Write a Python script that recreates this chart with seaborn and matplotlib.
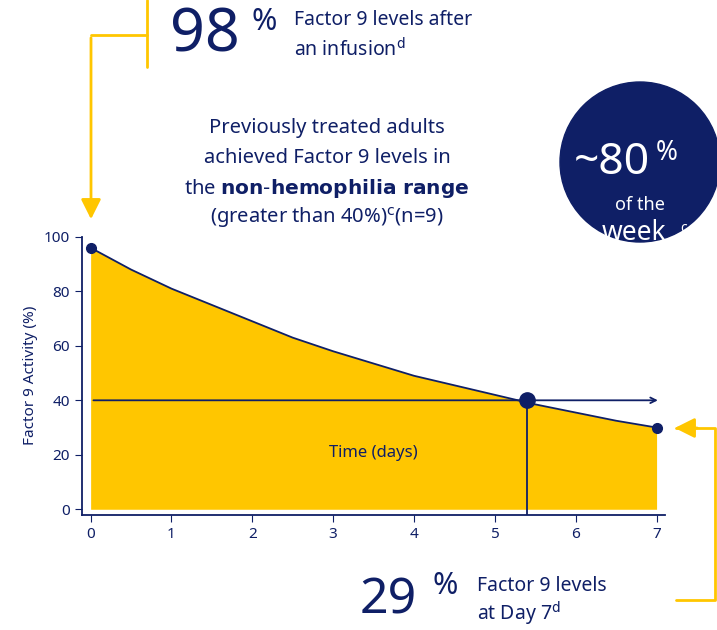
import matplotlib
matplotlib.use("Agg")
import matplotlib.pyplot as plt
import seaborn as sns
from matplotlib.patches import Ellipse, FancyArrowPatch
from matplotlib.lines import Line2D

days = [0, 0.5, 1, 1.5, 2, 2.5, 3, 3.5, 4, 4.5, 5, 5.5, 6, 6.5, 7]
activity = [96, 88, 81, 75, 69, 63, 58, 53.5, 49, 45.5, 42, 38.5, 35.5, 32.5, 30]
threshold = 40
cross_day = 5.4
xticks = [0, 1, 2, 3, 4, 5, 6, 7]
yticks = [0, 20, 40, 60, 80, 100]

NAVY = "#0f1f66"
GOLD = "#FFC600"

sns.set_style("white")
plt.rcParams['font.family'] = ['Noto Sans', 'DejaVu Sans']
fig = plt.figure(figsize=(7.17, 6.30), dpi=100)
ax = fig.add_axes([0.114, 0.183, 0.813, 0.441])
ax.fill_between(days, activity, 0, color=GOLD, lw=0)
sns.lineplot(x=days, y=activity, ax=ax, color=NAVY, lw=1.3)
ax.plot([days[0], days[-1]], [activity[0], activity[-1]], 'o', color=NAVY, ms=7)
ax.annotate("", xy=(7.05, threshold), xytext=(0, threshold),
            arrowprops=dict(arrowstyle="->", color=NAVY, lw=1.3))
ax.plot([cross_day, cross_day], [threshold, -2], color=NAVY, lw=1.3)
ax.plot([cross_day], [threshold], 'o', color=NAVY, ms=11)
ax.text(3.5, 20.5, "Time (days)", ha="center", va="center", color=NAVY, fontsize=12)
ax.set_xlim(-0.11, 7.1)
ax.set_ylim(-2, 100)
ax.set_xticks(xticks); ax.set_yticks(yticks)
ax.tick_params(colors=NAVY, labelsize=11, length=5, direction="out", left=True, bottom=True)
for s in ["top", "right"]:
    ax.spines[s].set_visible(False)
for s in ["left", "bottom"]:
    ax.spines[s].set_color(NAVY); ax.spines[s].set_linewidth(1.3)
ax.set_ylabel("Factor 9 Activity (%)", color=NAVY, fontsize=11)

W, H = 717, 630
def fx(x): return x / W
def fy(y): return 1 - y / H

for (xs, ys) in [([147, 147], [0, 67]), ([147, 91], [35, 35]),
                 ([676, 715, 715, 676], [428, 428, 600, 600])]:
    fig.add_artist(Line2D([fx(v) for v in xs], [fy(v) for v in ys], color=GOLD, lw=2))
fig.add_artist(FancyArrowPatch((fx(91), fy(35)), (fx(91), fy(222)), transform=fig.transFigure,
               arrowstyle="-|>,head_width=6,head_length=12", color=GOLD, lw=2, mutation_scale=1))
fig.add_artist(FancyArrowPatch((fx(700), fy(428)), (fx(672), fy(428)), transform=fig.transFigure,
               arrowstyle="-|>,head_width=6,head_length=12", color=GOLD, lw=2, mutation_scale=1))

fig.text(fx(170), fy(36), "98", fontsize=44, fontweight="bold", color=NAVY, va="center")
fig.text(fx(252), fy(22), "%", fontsize=22, color=NAVY, va="center")
fig.text(fx(294), fy(20), "Factor 9 levels after", fontsize=14, color=NAVY, va="center")
fig.text(fx(294), fy(50), "an infusion$^{\\rm d}$", fontsize=14, color=NAVY, va="center")

cx = fx(327)
fig.text(cx, fy(128), "Previously treated adults", fontsize=14.5, color=NAVY, ha="center", va="center")
fig.text(cx, fy(158), "achieved Factor 9 levels in", fontsize=14.5, color=NAVY, ha="center", va="center")
fig.text(cx, fy(188), "the $\\bf{non\\text{-}hemophilia\\ range}$", fontsize=14.5, color=NAVY, ha="center", va="center")
fig.text(cx, fy(218), "(greater than 40%)$^{\\rm c}$(n=9)", fontsize=14.5, color=NAVY, ha="center", va="center")

circ = Ellipse((fx(640), fy(162)), 160 / W, 160 / H, transform=fig.transFigure, color=NAVY)
circ.set_clip_on(False)
fig.add_artist(circ)
fig.text(fx(612), fy(163), "~80", fontsize=32, fontweight="bold", color="white", ha="center", va="center")
fig.text(fx(667), fy(153), "%", fontsize=19, color="white", ha="center", va="center")
fig.text(fx(640), fy(205), "of the", fontsize=13, color="white", ha="center", va="center")
fig.text(fx(634), fy(233), "week", fontsize=19, fontweight="bold", color="white", ha="center", va="center")
fig.text(fx(684), fy(228), "c", fontsize=10, color="white", ha="center", va="center")

fig.text(fx(360), fy(600), "29", fontsize=36, fontweight="bold", color=NAVY, va="center")
fig.text(fx(432), fy(586), "%", fontsize=22, color=NAVY, va="center")
fig.text(fx(477), fy(586), "Factor 9 levels", fontsize=14, color=NAVY, va="center")
fig.text(fx(477), fy(614), "at Day 7$^{\\rm d}$", fontsize=14, color=NAVY, va="center")

fig.savefig("out.png", dpi=100)
